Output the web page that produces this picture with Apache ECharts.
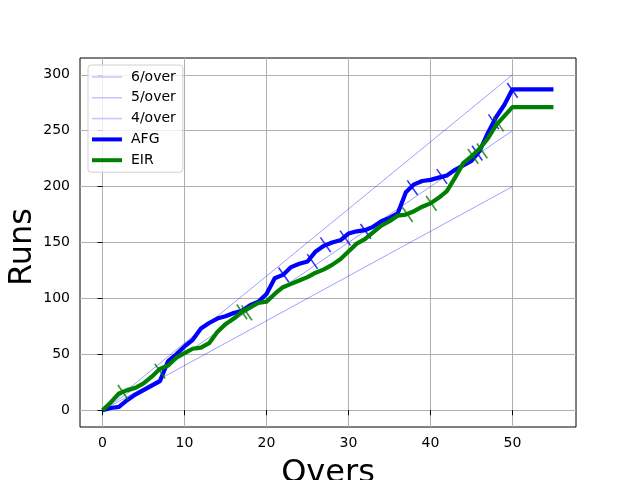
<!DOCTYPE html>
<html>
<head>
<meta charset="utf-8">
<script src="https://cdn.jsdelivr.net/npm/echarts@6/dist/echarts.min.js"></script>
<style>html,body{margin:0;padding:0;background:#fff}#c{width:640px;height:480px}</style>
</head>
<body>
<div id="c"></div>
<script>
// Overs for each cumulative-score point
const overs = [0,1,2,3,4,5,6,7,8,9,10,11,12,13,14,15,16,17,18,19,20,21,22,23,24,25,26,27,28,29,30,31,32,33,34,35,36,37,38,39,40,41,42,43,44,45,46,47,48,49,50,55];
const afgRuns = [0,2,3,9,14,18,22,26,44,50,57,63,73,78,82,84,87,89,94,97,104,118,121,128,131,133,142,147,150,152,158,160,161,164,169,172,176,195,202,205,206,208,210,215,219,223,232,248,262,273,287,287];
const eirRuns = [0,7,15,18,20,24,30,37,40,47,51,55,56,60,70,77,82,88,92,96,97,104,110,113,116,119,123,126,130,135,142,149,153,159,165,169,174,175,178,182,185,190,196,208,221,227,234,243,255,263,271,271];
// Wickets: [over, runs]
const afgWkts = [[22.1,121],[25.6,133],[27.2,148],[29.6,154],[32.1,160],[37.8,199],[41.4,209],[45.7,230],[47.7,258],[50,286]];
const eirWkts = [[2.5,16],[7,35],[17,88],[17.6,87],[37.2,175],[40.1,185],[45.2,227],[46.3,232],[48.3,256]];
// Run-rate reference lines
const rateNames = ['6/over','5/over','4/over'];
const rates = [6,5,4];
const rateOvers = [0,50];
const xTicks = [0,10,20,30,40,50];
const yTicks = [0,50,100,150,200,250,300];

const FONT = 'DejaVu Sans';
const chart = echarts.init(document.getElementById('c'), null, {renderer:'canvas'});

const thinIcon = 'path://M0,0M30,14M0,6.2h30v1.6h-30z';
const thickIcon = 'path://M0,0M30,14M0,5h30v4h-30z';

const series = [];
rates.forEach((r,i)=>{
  series.push({
    name: rateNames[i], type:'line', symbol:'none', silent:true,
    data: rateOvers.map(o=>[o, o*r]),
    lineStyle:{color:'rgba(0,0,255,0.55)', width:0.7},
    itemStyle:{color:'rgba(0,0,255,0.22)'},
    z:2
  });
});
series.push({
  name:'AFG', type:'line', symbol:'none',
  data: overs.map((o,i)=>[o, afgRuns[i]]),
  lineStyle:{color:'#0000ff', width:4.2, join:'round'},
  itemStyle:{color:'#0000ff'}, z:3
});
series.push({
  name:'AFG wickets', type:'scatter', symbol:'rect', symbolSize:[1.6,18], symbolRotate:35,
  data: afgWkts, itemStyle:{color:'#0000ff'}, z:4
});
series.push({
  name:'EIR', type:'line', symbol:'none',
  data: overs.map((o,i)=>[o, eirRuns[i]]),
  lineStyle:{color:'#008000', width:4.2, join:'round'},
  itemStyle:{color:'#008000'}, z:5
});
series.push({
  name:'EIR wickets', type:'scatter', symbol:'rect', symbolSize:[1.6,18], symbolRotate:35,
  data: eirWkts, itemStyle:{color:'#008000'}, z:6
});

chart.setOption({
  animation:false,
  backgroundColor:'#ffffff',
  grid:{left:80, right:64, top:58, bottom:53, show:true, borderColor:'#000', borderWidth:1, backgroundColor:'transparent'},
  legend:{
    data: [
      {name:'6/over', icon:thinIcon},
      {name:'5/over', icon:thinIcon},
      {name:'4/over', icon:thinIcon},
      {name:'AFG', icon:thickIcon},
      {name:'EIR', icon:thickIcon}
    ],
    orient:'vertical', left:88, top:65,
    itemWidth:30, itemHeight:14, itemGap:6.8,
    padding:[5,7,5,4],
    borderColor:'#d0d0d0', borderWidth:1, borderRadius:3,
    backgroundColor:'rgba(255,255,255,0.8)',
    textStyle:{fontFamily:FONT, fontSize:14, color:'#000', padding:[0,0,0,4]}
  },
  xAxis:{
    type:'value', min:-2.75, max:57.75,
    axisLine:{show:false},
    axisTick:{show:true, inside:false, length:5, customValues:xTicks, lineStyle:{color:'#000', width:1}},
    axisLabel:{customValues:xTicks, fontFamily:FONT, fontSize:14, color:'#000', margin:9},
    splitLine:{show:true, lineStyle:{color:'#b0b0b0', width:1}}
  },
  yAxis:{
    type:'value', min:-15, max:315,
    axisLine:{show:false},
    axisTick:{show:true, inside:false, length:5, customValues:yTicks, lineStyle:{color:'#000', width:1}},
    axisLabel:{customValues:yTicks, fontFamily:FONT, fontSize:14, color:'#000', margin:10},
    splitLine:{show:true, lineStyle:{color:'#b0b0b0', width:1}}
  },
  graphic:[
    {type:'text', x:328, y:474, style:{text:'Overs', fontFamily:FONT, fontSize:32, fill:'#000', align:'center', verticalAlign:'middle'}, z:10},
    {type:'text', x:23, y:247, rotation:Math.PI/2, style:{text:'Runs', fontFamily:FONT, fontSize:32, fill:'#000', align:'center', verticalAlign:'middle'}, z:10}
  ],
  series: series
});
</script>
</body>
</html>
